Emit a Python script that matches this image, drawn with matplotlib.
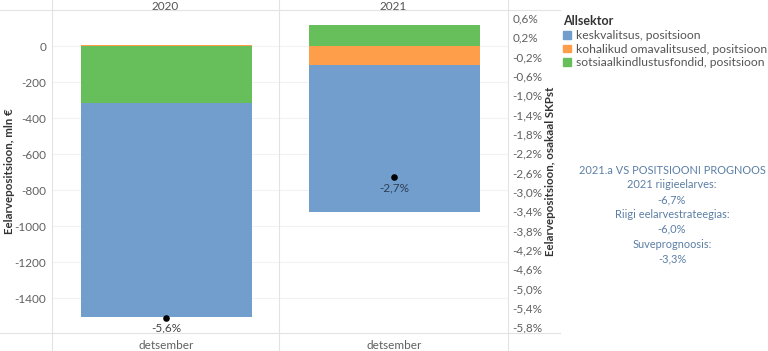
import matplotlib.pyplot as plt
import matplotlib.lines as mlines
from matplotlib.patches import Patch
import numpy as np

plt.rcParams['font.family'] = ['Lato', 'DejaVu Sans']

# data
years = ['2020', '2021']
months = ['detsember', 'detsember']
keskvalitsus = [-1189, -816]
kohalikud = [8, -106]
sotsiaal = [-317, 117]
skp_osakaal = [-5.6, -2.7]
skp_labels = ['-5,6%', '-2,7%']
left_ticks = [0, -200, -400, -600, -800, -1000, -1200, -1400]
right_ticks = [0.6, 0.2, -0.2, -0.6, -1.0, -1.4, -1.8, -2.2, -2.6, -3.0, -3.4,
               -3.8, -4.2, -4.6, -5.0, -5.4, -5.8]
series_names = ['keskvalitsus, positsioon', 'kohalikud omavalitsused, positsioon',
                'sotsiaalkindlustusfondid, positsioon']
colors = ['#729ECE', '#FF9E4A', '#67BF5C']
note_lines = ['2021.a VS POSITSIOONI PROGNOOS', '2021 riigieelarves:', '-6,7%',
              'Riigi eelarvestrateegias:', '-6,0%', 'Suveprognoosis:', '-3,3%']

fig = plt.figure(figsize=(7.68, 3.51), dpi=100)
ax = fig.add_axes([52/768, 1-333/351, (508-52)/768, 323/351])
x = np.arange(len(years))

# negatives stack away from zero in this order: sotsiaal, kohalikud, keskvalitsus
pos = np.zeros(len(years))
neg = np.zeros(len(years))
stack = [(sotsiaal, colors[2]), (kohalikud, colors[1]), (keskvalitsus, colors[0])]
for vals, c in stack:
    vals = np.array(vals, dtype=float)
    bottom = np.where(vals >= 0, pos, neg)
    ax.bar(x, vals, 0.75, bottom=bottom, color=c, zorder=2)
    pos = pos + np.where(vals >= 0, vals, 0)
    neg = neg + np.where(vals < 0, vals, 0)

ax.set_xlim(-0.5, 1.5)
ax.set_ylim(-1594, 200)
ax.set_yticks(left_ticks)
ax.set_yticklabels([str(t) for t in left_ticks])
ax.set_xticks(x)
ax.set_xticklabels(months)
ax.tick_params(length=0, labelsize=8.5, colors='#606060', pad=4)
ax.tick_params(axis='x', pad=5)
for s in ax.spines.values():
    s.set_visible(False)
for t in left_ticks:
    ax.axhline(t, color='#f2f2f2', lw=0.8, zorder=0)

ax2 = ax.twinx()
ax2.set_ylim(-5.92, 0.766)
ax2.scatter(x, skp_osakaal, s=14, color='black', zorder=4)
ax2.text(x[0], skp_osakaal[0] - 0.1, skp_labels[0], ha='center', va='top', fontsize=8.5, color='#444444')
ax2.text(x[1], skp_osakaal[1] - 0.1, skp_labels[1], ha='center', va='top', fontsize=8.5, color='#2d3e52')
ax2.set_yticks(right_ticks)
ax2.set_yticklabels([('%.1f' % t).replace('.', ',') + '%' for t in right_ticks])
ax2.tick_params(length=0, labelsize=8.5, colors='#606060', pad=3)
for s in ax2.spines.values():
    s.set_visible(False)

# axis titles
fig.text(9.5/768, 1-171/351, 'Eelarvepositsioon, mln €', rotation=90, ha='center', va='center',
         fontsize=8.3, fontweight='bold', color='#333333')
fig.text(550/768, 1-171/351, 'Eelarvepositsioon, osakaal SKPst', rotation=90, ha='center', va='center',
         fontsize=8.3, fontweight='bold', color='#333333')

# header with years and frame lines
for i, yr in enumerate(years):
    fig.text((165 + i*228)/768, 1-6/351, yr, ha='center', va='center', fontsize=8.5, color='#555555')
for xp in [52, 279, 508]:
    fig.add_artist(mlines.Line2D([xp/768, xp/768], [0, 1], color='#e3e3e3', lw=0.8))
for yp in [10, 333]:
    fig.add_artist(mlines.Line2D([0, 560/768], [1-yp/351, 1-yp/351], color='#e3e3e3', lw=0.8))

# legend
handles = [Patch(color=c) for c in colors]
leg = fig.legend(handles, series_names, title='Allsektor', loc='upper left',
                 bbox_to_anchor=(555/768, 1-7/351), frameon=False, fontsize=8.7,
                 handlelength=0.6, handleheight=0.6, handletextpad=0.45,
                 labelspacing=0.22, borderpad=0.2)
leg.get_title().set_fontweight('bold')
leg.get_title().set_fontsize(9)
leg.get_title().set_color('#333333')
leg._legend_box.align = 'left'
for t in leg.get_texts():
    t.set_color('#555555')

# note block
for i, line in enumerate(note_lines):
    fig.text(672/768, 1-(170 + i*14.8)/351, line, ha='center', va='center',
             fontsize=7.9, color='#5b7ea5')

fig.savefig('out.png', dpi=100)
